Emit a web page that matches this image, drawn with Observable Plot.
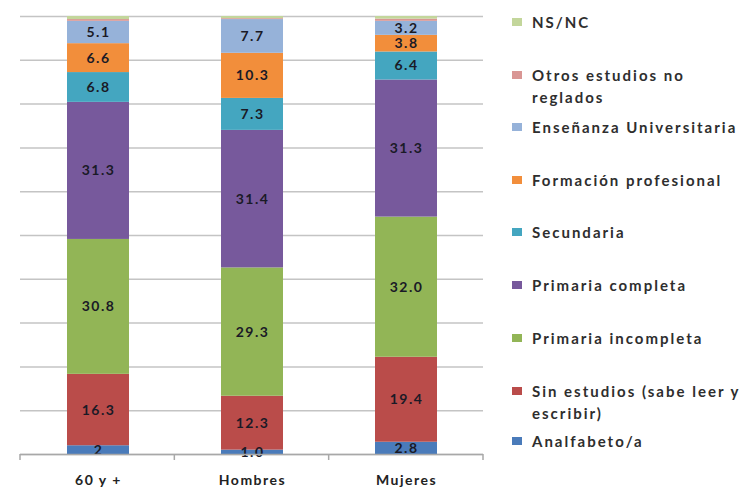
<!DOCTYPE html>
<html><head><meta charset="utf-8">
<script src="https://cdn.jsdelivr.net/npm/d3@7"></script>
<script src="https://cdn.jsdelivr.net/npm/@observablehq/plot@0.6"></script>
<style>
body{margin:0;background:#fff;}
#wrap{position:relative;width:753px;height:494px;font-family:Lato,"Open Sans",sans-serif;}
#wrap svg{position:absolute;left:0;top:0;}
.leg{position:absolute;left:512px;font-weight:bold;font-size:15px;line-height:22px;color:#2e2e2e;white-space:pre-line;letter-spacing:2px;}
.leg i{position:absolute;left:0;top:7px;width:10px;height:8px;}
.leg span{display:block;margin-left:20px;}
</style></head><body><div id="wrap"></div>
<script>
const categories = ["60 y +", "Hombres", "Mujeres"];
const series = ["Analfabeto/a", "Sin estudios (sabe leer y escribir)", "Primaria incompleta", "Primaria completa", "Secundaria", "Formación profesional", "Enseñanza Universitaria", "Otros estudios no reglados", "NS/NC"];
const legendText = ["Analfabeto/a", "Sin estudios (sabe leer y\nescribir)", "Primaria incompleta", "Primaria completa", "Secundaria", "Formación profesional", "Enseñanza Universitaria", "Otros estudios no\nreglados", "NS/NC"];
const colors = ["#4A7BBA", "#BA4C4A", "#92B556", "#77599C", "#44A6C0", "#F28E3B", "#96B2D9", "#D99694", "#C3D69B"];
const values60 = [2, 16.3, 30.8, 31.3, 6.8, 6.6, 5.1, 0.4, 0.7];
const valuesHombres = [1.0, 12.3, 29.3, 31.4, 7.3, 10.3, 7.7, 0.2, 0.5];
const valuesMujeres = [2.8, 19.4, 32.0, 31.3, 6.4, 3.8, 3.2, 0.5, 0.6];
const labels60 = ["2", "16.3", "30.8", "31.3", "6.8", "6.6", "5.1", "", ""];
const labelsHombres = ["1.0", "12.3", "29.3", "31.4", "7.3", "10.3", "7.7", "", ""];
const labelsMujeres = ["2.8", "19.4", "32.0", "31.3", "6.4", "3.8", "3.2", "", ""];
const yTicks = [0, 10, 20, 30, 40, 50, 60, 70, 80, 90, 100];

const valueSets = [values60, valuesHombres, valuesMujeres];
const labelSets = [labels60, labelsHombres, labelsMujeres];
const rows = [];
categories.forEach((c, i) => series.forEach((s, j) => rows.push({cat: c, serie: s, value: valueSets[i][j], label: labelSets[i][j]})));

const plot = Plot.plot({
  width: 753, height: 494,
  marginLeft: 20, marginRight: 270, marginTop: 16, marginBottom: 40,
  style: {fontFamily: "Lato, 'Open Sans', sans-serif", background: "transparent"},
  x: {domain: categories, paddingInner: 0.6, paddingOuter: 0.3, label: null},
  y: {domain: [0, 100], axis: null},
  color: {domain: series, range: colors},
  marks: [
    Plot.ruleY(yTicks, {stroke: "#c4c4c4", strokeWidth: 1.5}),
    Plot.barY(rows, Plot.stackY({x: "cat", y: "value", fill: "serie"})),
    Plot.text(rows, Plot.stackY({x: "cat", y: "value", z: "serie", text: "label", fill: "#1a1a26", fontSize: 14, fontWeight: "bold"})),
    Plot.ruleY([0], {stroke: "#a8a8a8", strokeWidth: 1.5}),
    Plot.axisX({tickSize: 0, tickPadding: 21, fontSize: 14, fontWeight: "bold", fill: "#222", label: null})
  ]
});
document.getElementById("wrap").appendChild(plot);

// category boundary tick marks on the baseline
const xs = plot.scale("x");
const ys = plot.scale("y");
const r = xs.range;
const step = (r[1] - r[0]) / categories.length;
const y0 = ys.apply(0);
d3.select(plot).append("g").selectAll("line")
  .data(d3.range(categories.length + 1))
  .join("line")
  .attr("x1", i => r[0] + i * step).attr("x2", i => r[0] + i * step)
  .attr("y1", y0).attr("y2", y0 + 6)
  .attr("stroke", "#a8a8a8").attr("stroke-width", 1.5);
d3.select(plot).selectAll("text").attr("letter-spacing", "1.5px");

// legend (top to bottom: reverse of stacking order)
const legendTops = [430, 380, 327, 274, 221, 169, 116, 64, 11];
const wrap = d3.select("#wrap");
series.forEach((s, j) => {
  const d = wrap.append("div").attr("class", "leg").style("top", legendTops[j] + "px");
  d.append("i").style("background", colors[j]);
  d.append("span").text(legendText[j]);
});
</script>
</body></html>
